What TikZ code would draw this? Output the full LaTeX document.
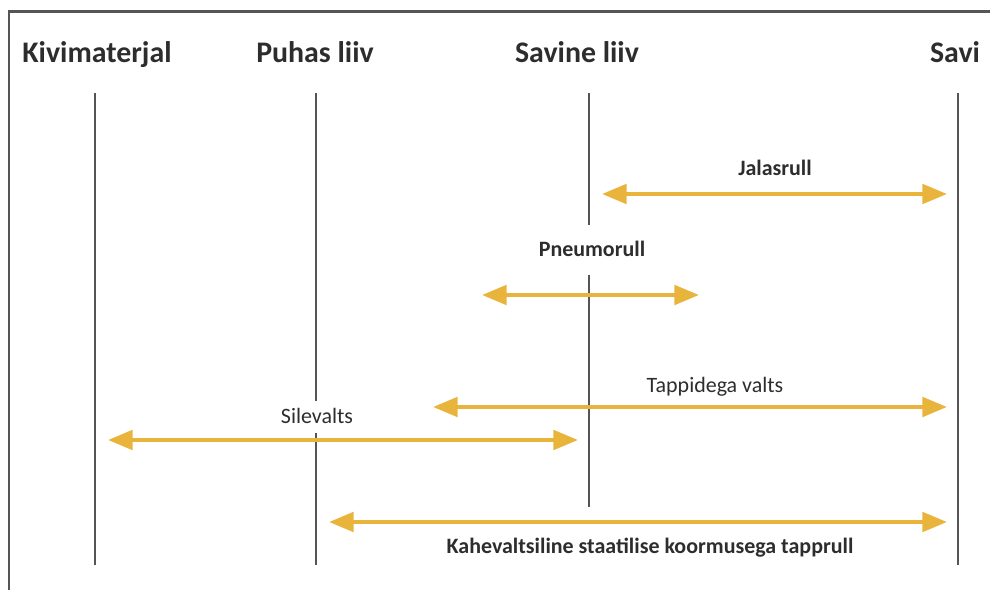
\documentclass[tikz,border=0pt]{standalone}
\usepackage{fontspec}
\setmainfont{Carlito}
\usepackage{xcolor}
\usetikzlibrary{arrows.meta}
\definecolor{kuld}{RGB}{233,180,60}
\definecolor{joon}{RGB}{85,85,85}
\definecolor{tekst}{RGB}{45,45,45}

\begin{document}
\begin{tikzpicture}[x=0.02cm,y=-0.02cm,
    pais/.style={anchor=base,inner sep=0pt,text=tekst,font=\fontsize{17}{20}\selectfont\bfseries},
    silt/.style={anchor=base,inner sep=0pt,text=tekst,font=\fontsize{12.5}{15}\selectfont},
    tulp/.style={draw=joon,line width=1.1pt},
    rull/.style={draw=kuld,line width=2.3pt,{Triangle[length=14pt,width=11pt]}-{Triangle[length=14pt,width=11pt]}}]
    \useasboundingbox (0,0) rectangle (990,590);
    \draw[joon,line width=1.7pt] (9,590) -- (9,12) -- (990,12);
    % pealkirjad
    \node[pais] (kivi) at (97,63) {Kivimaterjal};
    \node[pais] (puhas) at (315,63) {Puhas liiv};
    \node[pais] (savine) at (577,63) {Savine liiv};
    \node[pais] (savi) at (955,63) {Savi};
    % tulbad
    \coordinate (kivi1) at (95,93);   \coordinate (kivi2) at (95,565);
    \coordinate (puhas1) at (316,93); \coordinate (puhas2) at (316,401);
    \coordinate (puhas3) at (316,433); \coordinate (puhas4) at (316,565);
    \coordinate (savine1) at (589,93); \coordinate (savine2) at (589,225);
    \coordinate (savine3) at (589,275); \coordinate (savine4) at (589,507);
    \coordinate (savi1) at (958,93);  \coordinate (savi2) at (958,565);
    \draw[tulp] (kivi1) -- (kivi2);
    \draw[tulp] (puhas1) -- (puhas2) (puhas3) -- (puhas4);
    \draw[tulp] (savine1) -- (savine2) (savine3) -- (savine4);
    \draw[tulp] (savi1) -- (savi2);
    % rullid
    \coordinate (jala1) at (602,194);  \coordinate (jala2) at (947,194);
    \coordinate (pneu1) at (482,295);  \coordinate (pneu2) at (699,295);
    \coordinate (tapp1) at (433,407);  \coordinate (tapp2) at (947,407);
    \coordinate (sile1) at (108,440);  \coordinate (sile2) at (578,440);
    \coordinate (kahe1) at (329,522);  \coordinate (kahe2) at (947,522);
    \draw[rull] (jala1) -- (jala2);
    \draw[rull] (pneu1) -- (pneu2);
    \draw[rull] (tapp1) -- (tapp2);
    \draw[rull] (sile1) -- (sile2);
    \draw[rull] (kahe1) -- (kahe2);
    \node[silt,font=\fontsize{12.5}{15}\selectfont\bfseries] (jala) at (775,176) {Jalasrull};
    \node[silt,font=\fontsize{12.5}{15}\selectfont\bfseries] (pneu) at (592,257) {Pneumorull};
    \node[silt] (tapp) at (715,393) {Tappidega valts};
    \node[silt] (sile) at (317,424) {Silevalts};
    \node[silt,font=\fontsize{12.5}{15}\selectfont\bfseries] (kahe) at (650,554) {Kahevaltsiline staatilise koormusega tapprull};
\end{tikzpicture}
\end{document}
